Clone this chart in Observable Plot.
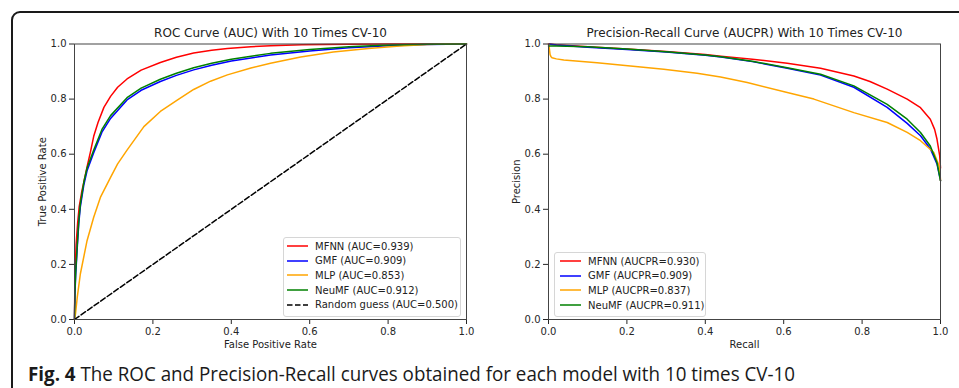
<!DOCTYPE html>
<html><head><meta charset="utf-8">
<script src="https://cdn.jsdelivr.net/npm/d3@7"></script>
<script src="https://cdn.jsdelivr.net/npm/@observablehq/plot@0.6"></script>
<style>
body{margin:0;background:#fff;}
#wrap{position:relative;width:959px;height:388px;overflow:hidden;background:#fff;}
#border{position:absolute;left:11px;top:11px;width:1000px;height:500px;border:2px solid #1a1a1a;border-radius:9px;box-sizing:border-box;}
.panel{position:absolute;top:0;}
.legend{position:absolute;background:#fff;border:1px solid #d6d6d6;border-radius:3px;font:10px "DejaVu Sans",sans-serif;color:#222;box-sizing:border-box;}
.legend .row{position:absolute;left:0;height:14px;display:flex;align-items:center;white-space:nowrap;}
#cap{position:absolute;left:0;top:0;}
</style></head>
<body><div id="wrap"><div id="border"></div></div>
<script>
// ---------- data ----------
const models = ["MFNN", "GMF", "MLP", "NeuMF"];
const modelColors = ["red", "blue", "orange", "green"];
const rocAUC = ["0.939", "0.909", "0.853", "0.912"];
const prAUC = ["0.930", "0.909", "0.837", "0.911"];
const xTicks = [0, 0.2, 0.4, 0.6, 0.8, 1.0];
const yTicks = [0, 0.2, 0.4, 0.6, 0.8, 1.0];

// ROC curves [FPR, TPR]
const rocMFNN = [[0,0],[0.001,0.14],[0.004,0.27],[0.008,0.35],[0.012,0.41],[0.018,0.46],[0.024,0.50],[0.033,0.56],[0.041,0.61],[0.049,0.665],[0.06,0.715],[0.075,0.77],[0.092,0.81],[0.11,0.843],[0.134,0.873],[0.17,0.905],[0.219,0.933],[0.26,0.952],[0.304,0.967],[0.35,0.977],[0.39,0.984],[0.45,0.99],[0.5,0.994],[0.58,0.997],[0.7,0.999],[0.8,1],[1,1]];
const rocGMF = [[0,0],[0.001,0.09],[0.003,0.16],[0.007,0.26],[0.011,0.35],[0.015,0.41],[0.024,0.49],[0.032,0.54],[0.049,0.605],[0.07,0.68],[0.092,0.73],[0.134,0.797],[0.17,0.832],[0.219,0.864],[0.26,0.886],[0.304,0.906],[0.35,0.923],[0.4,0.938],[0.5,0.96],[0.6,0.975],[0.7,0.986],[0.8,0.994],[0.9,0.998],[1,1]];
const rocMLP = [[0,0],[0.0025,0.02],[0.007,0.08],[0.015,0.166],[0.032,0.286],[0.049,0.371],[0.066,0.443],[0.092,0.516],[0.11,0.565],[0.134,0.615],[0.177,0.7],[0.219,0.755],[0.262,0.796],[0.304,0.835],[0.347,0.865],[0.39,0.888],[0.45,0.913],[0.5,0.93],[0.577,0.953],[0.66,0.971],[0.75,0.984],[0.83,0.993],[0.9,0.998],[0.95,1],[1,1]];
const rocNeuMF = [[0,0],[0.001,0.1],[0.003,0.17],[0.007,0.27],[0.011,0.36],[0.015,0.42],[0.024,0.5],[0.032,0.55],[0.049,0.615],[0.07,0.69],[0.092,0.74],[0.134,0.805],[0.17,0.84],[0.219,0.872],[0.26,0.894],[0.304,0.914],[0.35,0.93],[0.4,0.945],[0.5,0.966],[0.6,0.98],[0.7,0.99],[0.8,0.996],[0.9,0.999],[1,1]];
const rocRandom = [[0,0],[1,1]];

// PR curves [Recall, Precision]
const prMFNN = [[0,1.0],[0.02,0.997],[0.1,0.99],[0.2,0.982],[0.3,0.973],[0.4,0.962],[0.44,0.956],[0.52,0.945],[0.609,0.93],[0.694,0.912],[0.779,0.884],[0.82,0.864],[0.864,0.836],[0.915,0.8],[0.949,0.769],[0.974,0.727],[0.985,0.69],[0.991,0.655],[0.998,0.594],[1.0,0.55]];
const prGMF = [[0,1.0],[0.02,0.996],[0.1,0.988],[0.2,0.98],[0.3,0.971],[0.4,0.959],[0.44,0.953],[0.52,0.936],[0.609,0.912],[0.694,0.887],[0.779,0.843],[0.864,0.77],[0.915,0.712],[0.949,0.667],[0.974,0.62],[0.991,0.565],[1.0,0.504]];
const prMLP = [[0,1.0],[0.002,0.985],[0.004,0.962],[0.006,0.955],[0.009,0.95],[0.02,0.946],[0.039,0.942],[0.124,0.932],[0.209,0.92],[0.294,0.908],[0.379,0.894],[0.439,0.88],[0.507,0.86],[0.609,0.824],[0.677,0.80],[0.779,0.751],[0.864,0.715],[0.915,0.679],[0.949,0.649],[0.983,0.606],[0.998,0.552],[1.0,0.504]];
const prNeuMF = [[0,0.993],[0.02,0.993],[0.1,0.99],[0.2,0.982],[0.3,0.972],[0.4,0.96],[0.44,0.954],[0.52,0.937],[0.609,0.914],[0.694,0.89],[0.779,0.848],[0.864,0.781],[0.915,0.727],[0.949,0.679],[0.974,0.63],[0.991,0.57],[1.0,0.504]];

const rocTitle = "ROC Curve (AUC) With 10 Times CV-10";
const prTitle = "Precision-Recall Curve (AUCPR) With 10 Times CV-10";
const captionBold = "Fig. 4";
const captionText = " The ROC and Precision-Recall curves obtained for each model with 10 times CV-10";

// ---------- build ----------
const toRows = (arrs) => arrs.flatMap((a, i) => a.map(([x, y]) => ({model: models[i], x, y})));
const rocRows = toRows([rocMFNN, rocGMF, rocMLP, rocNeuMF]);
const prRows = toRows([prMFNN, prGMF, prMLP, prNeuMF]);
const randRows = rocRandom.map(([x, y]) => ({x, y}));
const fmt = d3.format(".1f");

function panel(rows, extra, title, xlabel, ylabel) {
  return Plot.plot({
    width: 480, height: 360,
    marginLeft: 74, marginRight: 14, marginTop: 43.5, marginBottom: 41,
    style: {fontFamily: "'DejaVu Sans', sans-serif", fontSize: "10px", color: "#262626", background: "transparent", overflow: "visible"},
    x: {domain: [0, 1], ticks: xTicks, tickFormat: fmt, tickSize: 5, tickPadding: 3, label: null},
    y: {domain: [0, 1], ticks: yTicks, tickFormat: fmt, tickSize: 5, tickPadding: 3, label: null},
    color: {domain: models, range: modelColors},
    marks: [
      Plot.line(rows, {x: "x", y: "y", z: "model", stroke: "model", strokeWidth: 1.5}),
      ...extra,
      Plot.frame({stroke: "#444", strokeWidth: 1}),
      Plot.text([title], {text: d => d, frameAnchor: "top", lineAnchor: "middle", textAnchor: "middle", dy: -10.5, fontSize: 12, fill: "#222"}),
      Plot.text([xlabel], {text: d => d, frameAnchor: "bottom", lineAnchor: "middle", textAnchor: "middle", dy: 25, fontSize: 10, fill: "#222"}),
      Plot.text([ylabel], {text: d => d, frameAnchor: "left", lineAnchor: "middle", textAnchor: "middle", dx: -32, rotate: -90, fontSize: 10, fill: "#222"})
    ]
  });
}

const wrap = document.getElementById("wrap");
const left = panel(rocRows, [Plot.line(randRows, {x: "x", y: "y", stroke: "black", strokeWidth: 1.5, strokeDasharray: "5.5,2.5"})],
  rocTitle, "False Positive Rate", "True Positive Rate");
left.classList.add("panel"); left.style.left = "0px";
wrap.appendChild(left);
const right = panel(prRows, [], prTitle, "Recall", "Precision");
right.classList.add("panel"); right.style.left = "474px";
wrap.appendChild(right);

function legend(x, y, w, items, pad) {
  const box = document.createElement("div");
  box.className = "legend";
  box.style.left = x + "px"; box.style.top = y + "px"; box.style.width = w + "px";
  box.style.height = (items.length * 14.7 + 6) + "px";
  items.forEach((it, i) => {
    const row = document.createElement("div");
    row.className = "row";
    row.style.top = (1 + i * 14.7) + "px";
    row.style.left = pad + "px";
    const ns = "http://www.w3.org/2000/svg";
    const s = document.createElementNS(ns, "svg");
    s.setAttribute("width", 21); s.setAttribute("height", 14);
    const l = document.createElementNS(ns, "line");
    l.setAttribute("x1", 0); l.setAttribute("x2", 21); l.setAttribute("y1", 7); l.setAttribute("y2", 7);
    l.setAttribute("stroke", it.color); l.setAttribute("stroke-width", 1.5);
    if (it.dash) l.setAttribute("stroke-dasharray", it.dash);
    s.appendChild(l);
    row.appendChild(s);
    const t = document.createElement("span");
    t.textContent = it.label; t.style.marginLeft = "7px";
    row.appendChild(t);
    box.appendChild(row);
  });
  wrap.appendChild(box);
}
legend(283, 237, 178,
  models.map((m, i) => ({label: `${m} (AUC=${rocAUC[i]})`, color: modelColors[i]}))
    .concat([{label: "Random guess (AUC=0.500)", color: "black", dash: "5.5,2.5"}]), 3);
legend(554, 252, 152,
  models.map((m, i) => ({label: `${m} (AUCPR=${prAUC[i]})`, color: modelColors[i]})), 5);

// caption
const ns = "http://www.w3.org/2000/svg";
const cap = document.createElementNS(ns, "svg");
cap.setAttribute("id", "cap"); cap.setAttribute("width", 959); cap.setAttribute("height", 388);
const ct = document.createElementNS(ns, "text");
ct.setAttribute("x", 28); ct.setAttribute("y", 381);
ct.setAttribute("font-family", "'Open Sans', sans-serif"); ct.setAttribute("font-size", "19.5px"); ct.setAttribute("fill", "#1a1a1a");
ct.setAttribute("textLength", 767); ct.setAttribute("lengthAdjust", "spacingAndGlyphs");
const b = document.createElementNS(ns, "tspan"); b.setAttribute("font-weight", "bold"); b.textContent = captionBold;
const r = document.createElementNS(ns, "tspan"); r.textContent = captionText;
ct.appendChild(b); ct.appendChild(r); cap.appendChild(ct);
wrap.appendChild(cap);
</script></body></html>
